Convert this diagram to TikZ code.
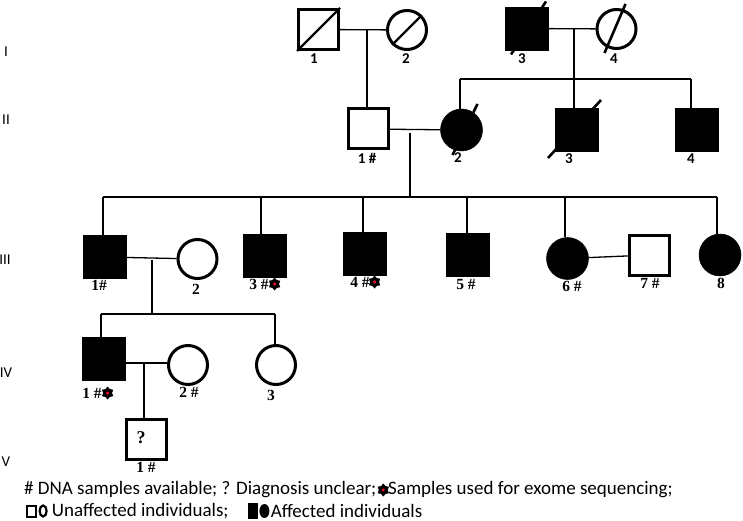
\documentclass[tikz,border=0pt]{standalone}
\usepackage{fontspec}
\setmainfont{Liberation Serif}
\newfontfamily\calib{Carlito}
\usetikzlibrary{positioning}
\usetikzlibrary{shapes.geometric}
\tikzset{node distance=1pt, % gap between a label and its star
         every node/.style={inner sep=0pt},
         male/.style={ % unaffected male
           draw, line width=3pt, minimum size=40pt},
         female/.style={ % unaffected female
           circle, draw, line width=3pt, minimum size=39pt},
         malea/.style={ % affected male
           draw, fill=black, line width=0.5pt, minimum size=43pt},
         femalea/.style={ % affected female
           circle, draw, fill=black, line width=0.5pt, minimum size=42pt},
         link/.style={line width=1.3pt},
         slash/.style={line width=2.6pt},
         gen/.style={font=\calib\fontsize{15}{17}\selectfont},
         idtop/.style={font=\calib\bfseries\fontsize{15}{17}\selectfont},
         idlow/.style={font=\bfseries\fontsize{15.5}{18}\selectfont},
         legtext/.style={font=\calib\fontsize{19}{22}\selectfont, anchor=west},
         exome/.style={ % sample used for exome sequencing
           star, star points=6, star point ratio=1.45, fill=black,
           minimum size=13pt,
           path picture={\fill[red!85!magenta] (path picture bounding box.center) circle (1.7pt);}}}

\begin{document}
\begin{tikzpicture}[x=1pt,y=-1pt]
  \useasboundingbox (0,0) rectangle (743,521);

  % generation numbers
  \node [gen] (gI) at (6,52) {I};
  \node [gen] (gII) at (6,120) {II};
  \node [gen] (gIII) at (5,260) {III};
  \node [gen] (gIV) at (6,373) {IV};
  \node [gen] (gV) at (6,462) {V};

  % generation I
  \node [male] (i1) at (318.5,29.5) {};
  \node [female] (i2) at (407,30) {};
  \node [malea] (i3) at (527,28.5) {};
  \node [female] (i4) at (616.5,29) {};
  \draw [line width=2.2pt] (i1.south west) -- (i1.north east);
  \draw [line width=2.2pt] (i2.225) -- (i2.45);
  \draw [slash, shift={(i3.center)}] (-16,26) -- (19,-27);
  \draw [slash, shift={(i4.center)}] (-12,24) -- (9,-25);
  \node [idtop] (li1) at (314,59) {1};
  \node [idtop] (li2) at (406,59) {2};
  \node [idtop] (li3) at (522,59) {3};
  \node [idtop] (li4) at (614,59) {4};

  \coordinate (m1) at (367,30);
  \coordinate (m2) at (574,29);
  \draw [link] (i1) -- (i2);
  \draw [link] (i3) -- (i4);

  % generation II
  \node [male] (ii1) at (368.5,129) {};
  \node [femalea] (ii2) at (461.5,130) {};
  \node [malea] (ii3) at (577,130) {};
  \node [malea] (ii4) at (697,130) {};
  \draw [slash, shift={(ii2.center)}] (-9,25) -- (16,-26);
  \draw [slash, shift={(ii3.center)}] (-29,28) -- (24,-30);
  \node [idtop] (lii1) at (367,158) {1 \#};
  \node [idtop] (lii2) at (458,158) {2};
  \node [idtop] (lii3) at (569,159) {3};
  \node [idtop] (lii4) at (691,159) {4};

  \coordinate (s2l) at (460,79);
  \coordinate (s2r) at (691,79);
  \draw [link] (m1) -- (m1 |- ii1.north);
  \draw [link] (m2) -- (m2 |- ii3.north);
  \draw [link] (s2l) -- (s2r);
  \draw [link] (s2l) -- (s2l |- ii2.north);
  \draw [link] (s2r) -- (s2r |- ii4.north);

  \coordinate (m3) at (410,133);
  \draw [link] (ii1) -- (ii2);

  % generation III
  \node [malea] (iii1) at (105,257) {};
  \node [female] (iii2) at (197.5,259) {};
  \node [malea] (iii3) at (265,256) {};
  \node [malea] (iii4) at (365,254) {};
  \node [malea] (iii5) at (467.5,255) {};
  \node [femalea] (iii6) at (567.5,258.5) {};
  \node [male] (iii7) at (649.5,255) {};
  \node [femalea] (iii8) at (720,255) {};
  \node [idlow] (liii1) at (99,285) {1\#};
  \node [idlow] (liii2) at (196,289) {2};
  \node [idlow] (liii3) at (259,284) {3 \#};
  \node [exome, right=of liii3] (xiii3) {};
  \node [idlow] (liii4) at (360,282) {4 \#};
  \node [exome, right=0pt of liii4] (xiii4) {};
  \node [idlow] (liii5) at (466,284) {5 \#};
  \node [idlow] (liii6) at (572,286) {6 \#};
  \node [idlow] (liii7) at (650,283) {7 \#};
  \node [idlow] (liii8) at (721,283) {8};

  \coordinate (s3l) at (103,197);
  \coordinate (s3r) at (717,197);
  \draw [link] (m3) -- (m3 |- s3l);
  \draw [link] (s3l) -- (s3r);
  \foreach \x/\who in {103/iii1, 261/iii3, 363/iii4, 467/iii5, 565/iii6, 717/iii8}
    \draw [link] (\x,197) -- (\x,197 |- \who.north);
  \draw [link] (iii1) -- (iii2);
  \draw [link] (iii6) -- (iii7);
  \coordinate (m4) at (152,260);

  % generation IV
  \node [malea] (iv1) at (103.5,358.5) {};
  \node [female] (iv2) at (188,365) {};
  \node [female] (iv3) at (276,365) {};
  \node [idlow] (liv1) at (92,393) {1 \#};
  \node [exome, right=of liv1] (xiv1) {};
  \node [idlow] (liv2) at (189,392) {2 \#};
  \node [idlow] (liv3) at (271,395) {3};

  \coordinate (s4l) at (101,314);
  \coordinate (s4r) at (275,314);
  \draw [link] (m4) -- (m4 |- s4l);
  \draw [link] (s4l) -- (s4r);
  \draw [link] (s4l) -- (s4l |- iv1.north);
  \draw [link] (s4r) -- (s4r |- iv3.north);
  \draw [link] (iv1.east |- 0,363) -- (iv2.west |- 0,363);
  \coordinate (m5) at (144,363);

  % generation V
  \node [male] (v1) at (146,439) {};
  \node [idlow, font=\bfseries\fontsize{18}{20}\selectfont] (q) at (141,438) {?};
  \node [idlow] (lv1) at (146,467) {1 \#};
  \draw [link] (m5) -- (m5 |- v1.north);

  % legend
  \node [legtext] (leg1) at (24,490) {\# DNA samples available; ? Diagnosis unclear;};
  \node [exome, right=2pt of leg1] (xleg) {};
  \node [legtext, right=0pt of xleg] (leg2) {Samples used for exome sequencing;};
  \node [draw, line width=2pt, minimum width=9pt, minimum height=11pt] (lsq) at (31,511) {};
  \node [ellipse, draw, line width=2.2pt, minimum width=7pt, minimum height=11pt, right=2pt of lsq] (lci) {};
  \node [legtext, right=4pt of lci] (leg3) {Unaffected individuals;};
  \node [fill=black, minimum width=10pt, minimum height=16pt] (lsqa) at (253,511) {};
  \node [ellipse, fill=black, minimum width=10pt, minimum height=14pt, right=1pt of lsqa] (lcia) {};
  \node [legtext, right=1pt of lcia] (leg4) {Affected individuals};
\end{tikzpicture}
\end{document}
